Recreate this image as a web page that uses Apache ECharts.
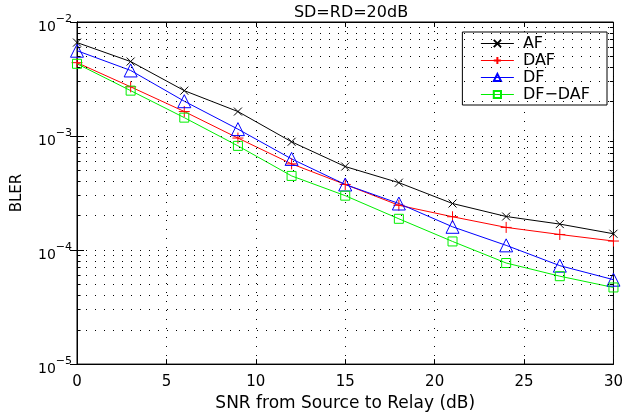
<!DOCTYPE html>
<html>
<head>
<meta charset="utf-8">
<script src="https://cdn.jsdelivr.net/npm/echarts@6/dist/echarts.min.js"></script>
<style>
  html, body { margin: 0; padding: 0; background: #fff; }
  #chart { width: 626px; height: 417px; }
</style>
</head>
<body>
<div id="chart"></div>
<script>
var snr = [0, 3, 6, 9, 12, 15, 18, 21, 24, 27, 30];
var af = [6.6e-3, 4.5e-3, 2.5e-3, 1.64e-3, 8.9e-4, 5.4e-4, 3.9e-4, 2.56e-4, 1.97e-4, 1.69e-4, 1.39e-4];
var daf = [4.4e-3, 2.7e-3, 1.64e-3, 9.6e-4, 5.7e-4, 3.76e-4, 2.47e-4, 1.96e-4, 1.58e-4, 1.37e-4, 1.2e-4];
var df = [5.6e-3, 3.76e-3, 2.02e-3, 1.15e-3, 6.3e-4, 3.76e-4, 2.56e-4, 1.6e-4, 1.1e-4, 7.3e-5, 5.5e-5];
var dfdaf = [4.3e-3, 2.5e-3, 1.45e-3, 8.2e-4, 4.47e-4, 3.0e-4, 1.88e-4, 1.19e-4, 7.7e-5, 5.9e-5, 4.7e-5];
var xTicks = [0, 5, 10, 15, 20, 25, 30];
var decades = [1e-5, 1e-4, 1e-3];
var mantissas = [2, 3, 4, 5, 6, 7, 8, 9];

var chartDom = document.getElementById('chart');
var myChart = echarts.init(chartDom);
var font = 'DejaVu Sans';
var dots = [1, 8];

// minor grid lines at 2..9 x 10^k, plus short ticks on left/right edges
var minorLines = [];
var minorTicks = [];
decades.forEach(function (d) {
  mantissas.forEach(function (m) {
    var v = d * m;
    minorLines.push([{ coord: [0, v] }, { coord: [30, v] }]);
    minorTicks.push([{ coord: [0, v] }, { coord: [0.2, v] }]);
    minorTicks.push([{ coord: [29.8, v] }, { coord: [30, v] }]);
  });
});

function pairs(ys) {
  return snr.map(function (x, i) { return [x, ys[i]]; });
}

var crossPath = 'path://M0,0L10,10M10,0L0,10';
var plusPath = 'path://M5,0L5,10M0,5L10,5';

function mk(name, ys, color, symbol, size) {
  return {
    name: name,
    type: 'line',
    data: pairs(ys),
    symbol: symbol,
    symbolSize: size,
    showAllSymbol: true,
    lineStyle: { color: color, width: 1 },
    itemStyle: { color: 'rgba(0,0,0,0)', borderColor: color, borderWidth: 1 },
    emphasis: { disabled: true },
    z: 3
  };
}

var series = [
  mk('AF', af, '#000000', crossPath, 8),
  mk('DAF', daf, '#ff0000', plusPath, 11),
  mk('DF', df, '#0000ff', 'triangle', 13),
  mk('DF\u2212DAF', dfdaf, '#00ee00', 'rect', 9),
  {
    name: 'grid-minor',
    type: 'line',
    data: [],
    silent: true,
    z: 1,
    markLine: {
      silent: true,
      symbol: 'none',
      animation: false,
      label: { show: false },
      lineStyle: { color: '#000', type: dots, width: 1 },
      emphasis: { disabled: true },
      data: minorLines
    }
  },
  {
    name: 'tick-minor',
    type: 'line',
    data: [],
    silent: true,
    z: 2,
    markLine: {
      silent: true,
      symbol: 'none',
      animation: false,
      label: { show: false },
      lineStyle: { color: '#000', type: 'solid', width: 1 },
      emphasis: { disabled: true },
      data: minorTicks
    }
  }
];

var option = {
  animation: false,
  backgroundColor: '#fff',
  title: {
    text: 'SD=RD=20dB',
    left: 346, top: 0, textAlign: 'center',
    textStyle: { fontFamily: font, fontSize: 16, fontWeight: 'normal', color: '#000' }
  },
  legend: {
    right: 19, top: 32,
    orient: 'vertical',
    backgroundColor: '#fff',
    borderColor: '#000', borderWidth: 1,
    padding: [3, 17, 2, 18],
    itemGap: 0,
    itemWidth: 33, itemHeight: 9,
    textStyle: { fontFamily: font, fontSize: 16, lineHeight: 17, color: '#000', padding: [0, 0, 0, 4] },
    lineStyle: { width: 1 },
    data: ['AF', 'DAF', 'DF', 'DF\u2212DAF']
  },
  grid: { left: 77, right: 10, top: 22, bottom: 44, show: true, borderColor: '#000', borderWidth: 1 },
  xAxis: [{
    type: 'value', min: 0, max: 30, interval: 5,
    name: 'SNR from Source to Relay (dB)', nameLocation: 'middle', nameGap: 30,
    nameTextStyle: { fontFamily: font, fontSize: 17, color: '#000' },
    axisLine: { lineStyle: { color: '#000' } },
    axisTick: { inside: true, length: 5, lineStyle: { color: '#000' } },
    axisLabel: { fontFamily: font, fontSize: 15, color: '#000', margin: 11,
      customValues: xTicks },
    splitLine: { show: true, lineStyle: { color: '#000', type: dots } }
  }, {
    type: 'value', min: 0, max: 30, interval: 5, position: 'top',
    axisLine: { lineStyle: { color: '#000' } },
    axisTick: { inside: true, length: 5, lineStyle: { color: '#000' } },
    axisLabel: { show: false },
    splitLine: { show: false }
  }],
  yAxis: [{
    type: 'log', logBase: 10, min: 1e-5, max: 1e-2,
    name: 'BLER', nameLocation: 'middle', nameGap: 52,
    nameTextStyle: { fontFamily: font, fontSize: 15, color: '#000' },
    axisLine: { show: true, lineStyle: { color: '#000' } },
    axisTick: { show: true, inside: true, length: 7, lineStyle: { color: '#000' } },
    axisLabel: {
      color: '#000', margin: 5,
      padding: [10, 0, 0, 0],
      formatter: function (v) {
        var e = Math.round(Math.log10(v));
        return '{b|10}{s|' + (e < 0 ? '\u2212' + (-e) : e) + '}';
      },
      rich: {
        b: { fontFamily: font, fontSize: 14, color: '#000' },
        s: { fontFamily: font, fontSize: 11, color: '#000', padding: [0, 0, 15, 0] }
      }
    },
    splitLine: { show: true, lineStyle: { color: '#000', type: dots } }
  }, {
    type: 'log', logBase: 10, min: 1e-5, max: 1e-2, position: 'right',
    axisLine: { show: true, lineStyle: { color: '#000' } },
    axisTick: { show: true, inside: true, length: 7, lineStyle: { color: '#000' } },
    axisLabel: { show: false },
    splitLine: { show: false }
  }],
  series: series
};

option && myChart.setOption(option);
</script>
</body>
</html>
